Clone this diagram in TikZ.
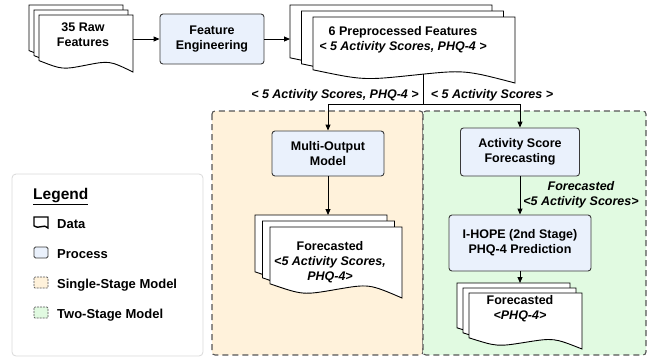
\documentclass[tikz,border=0pt]{standalone}
\usepackage{fontspec}
\setmainfont{Liberation Sans}
\usepackage{tikz}
\usepackage{xcolor}
\usetikzlibrary{arrows.meta}
\definecolor{procfill}{HTML}{EAF1FC}
\definecolor{procline}{HTML}{3A3A3A}
\definecolor{singlefill}{HTML}{FFF2DB}
\definecolor{twofill}{HTML}{E1FAE1}
\definecolor{regionline}{HTML}{555555}
\tikzset{%
  tipA/.tip={Triangle[length=6pt,width=5pt]},
  flow/.style={draw=black, line width=0.9pt, -tipA},
  link/.style={draw=black, line width=0.9pt},
  process/.style={draw=procline, fill=procfill, line width=0.9pt, rounded corners=3pt},
  procbox/.style={process, align=center, inner sep=2pt},
  sheet/.style={draw=black, fill=white, line width=0.9pt},
  region/.style={draw=regionline, line width=1.1pt, dash pattern=on 6pt off 4pt, rounded corners=3pt},
  doctext/.style={align=center, inner sep=0pt},
  flowlabel/.style={font=\fontsize{12.5}{15}\selectfont\bfseries\itshape, align=center, inner sep=0pt},
  legendtext/.style={anchor=west, inner sep=0pt, font=\fontsize{13}{15}\selectfont\bfseries}
}
% one page of a document, wavy lower edge: x, y, width, height
\newcommand{\docsheet}[4]{%
  \filldraw[sheet] (#1,#2) -- ({#1+#3},#2) -- ({#1+#3},{#2+#4})
    .. controls ({#1+0.75*#3},{#2+0.8*#4}) .. ({#1+0.5*#3},{#2+0.88*#4})
    .. controls ({#1+0.25*#3},{#2+0.96*#4}) .. (#1,{#2+0.8*#4}) -- cycle;}
% three pages: x, y, width, height, dx, dy
\newcommand{\docstack}[6]{%
  \docsheet{#1}{#2}{#3}{#4}
  \docsheet{#1+#5}{#2+#6}{#3}{#4}
  \docsheet{#1+2*#5}{#2+2*#6}{#3}{#4}}

\begin{document}
\begin{tikzpicture}[x=1pt,y=-1pt,font=\fontsize{12.5}{15}\selectfont\bfseries]
    \useasboundingbox (0,0) rectangle (654,360);

    % model regions
    \draw[region, fill=singlefill] (212,111) rectangle (423,355);
    \draw[region, fill=twofill] (423,111) rectangle (646,355);

    % legend
    \draw[draw=black!15, fill=white, line width=0.8pt, rounded corners=4pt] (12,174) rectangle (203,356);
    \node[anchor=west, inner sep=0pt, font=\fontsize{15.5}{18}\selectfont\bfseries] (legend) at (33,197) {\underline{Legend}};
    \begin{scope}[sheet/.append style={line width=1.4pt}]
      \docsheet{34}{217}{14}{11}
    \end{scope}
    \draw[process, rounded corners=1.5pt] (34,247) rectangle (48,258);
    \draw[region, fill=singlefill, line width=0.7pt, dash pattern=on 2pt off 1pt, rounded corners=1pt] (34,277) rectangle (48,288);
    \draw[region, fill=twofill, line width=0.7pt, dash pattern=on 2pt off 1pt, rounded corners=1pt] (34,307) rectangle (48,318);
    \node[legendtext] (leg-data) at (57,224) {Data};
    \node[legendtext] (leg-proc) at (57,254) {Process};
    \node[legendtext] (leg-single) at (57,285) {Single-Stage Model};
    \node[legendtext] (leg-two) at (57,315) {Two-Stage Model};

    % connector ends on the page stacks
    \coordinate (raw-out) at (133,39);
    \coordinate (pre-in) at (290,39);
    \coordinate (pre-out) at (423,74);
    \coordinate (split) at (423,104);
    \coordinate (fcl-in) at (328,215);
    \coordinate (fcr-in) at (520,283);

    % data
    \docstack{29}{5}{94}{57}{5}{5}
    \node[doctext] (raw) at (83,35) {35 Raw\\Features};
    \docstack{290}{5}{202}{66}{11.5}{6}
    \node[doctext] (pre) at (403,40) {6 Preprocessed Features\\\itshape < 5 Activity Scores, PHQ-4 >};
    \docstack{255}{215}{132}{71}{7.5}{6}
    \node[doctext] (fcl) at (330,262) {Forecasted\\\itshape <5 Activity Scores,\\\itshape PHQ-4>};
    \docstack{457}{283}{113}{56}{6}{5}
    \node[doctext] (fcr) at (520,309) {Forecasted\\\itshape <PHQ-4>};

    % processes
    \node[procbox, minimum width=104pt, minimum height=50pt] (fe) at (212,39) {Feature\\Engineering};
    \node[procbox, minimum width=112pt, minimum height=45pt] (mom) at (328,153.5) {Multi-Output\\Model};
    \node[procbox, minimum width=119pt, minimum height=48pt] (asf) at (520,152) {Activity Score\\Forecasting};
    \node[procbox, minimum width=142pt, minimum height=56pt] (ihope) at (520,243) {I-HOPE (2nd Stage)\\PHQ-4 Prediction};

    % flows
    \draw[flow] (raw-out) -- (fe);
    \draw[flow] (fe) -- (pre-in);
    \draw[link] (pre-out) -- (split);
    \draw[flow] (split) -| (mom);
    \draw[flow] (split) -| (asf);
    \draw[flow] (mom) -- (fcl-in);
    \draw[flow] (asf) -- (ihope);
    \draw[flow] (ihope) -- (fcr-in);

    \node[flowlabel] (lbl-both) at (335,95) {< 5 Activity Scores, PHQ-4 >};
    \node[flowlabel] (lbl-act) at (492,95) {< 5 Activity Scores >};
    \node[flowlabel] (lbl-fc) at (581,195) {Forecasted\\<5 Activity Scores>};
\end{tikzpicture}
\end{document}
